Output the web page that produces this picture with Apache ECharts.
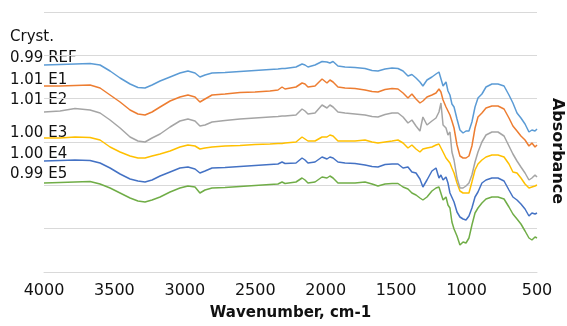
<!DOCTYPE html>
<html>
<head>
<meta charset="utf-8">
<script src="https://cdn.jsdelivr.net/npm/echarts@6/dist/echarts.min.js"></script>
<style>
html,body{margin:0;padding:0;background:#fff;}
#chart{width:567px;height:326px;}
</style>
</head>
<body>
<div id="chart"></div>
<script>
// Wavenumbers (cm-1)
var wavenumbers = [4000,3886,3780,3673,3602,3531,3460,3389,3333,3283,3233,3176,3105,3035,2978,2928,2893,2857,2807,2715,2609,2502,2396,2339,2310,2289,2211,2168,2147,2126,2076,2026,1991,1970,1948,1913,1863,1792,1721,1671,1629,1579,1529,1487,1451,1416,1388,1359,1331,1310,1281,1246,1217,1196,1182,1167,1146,1132,1118,1104,1089,1068,1047,1025,1004,983,962,940,919,891,862,820,777,734,699,671,642,614,585,557,536,514,500];

// Absorbance (arbitrary, offset units)
var ref = [207,207.5,208,208.5,207,201,194,188,184.5,184,187,191,195,199,201,199,195,197,199,199.5,200.5,201.5,202.5,203,203.5,203.5,205,208,207,205,207,210.5,210,209,210.5,206,205,204.5,203.5,201.5,201,203,204,203.5,201,196,197.5,194,190,186,192,195,198,200,198,186,190,181,177,168,165,153,142,139,141,141,150,165,174,178,185,188,188,186,177,169,159,154,148,140,142,141,143];
var e1 = [186,186,186.5,187,184,177,170,162,158,157,160,165,171,175,177,175,170,173,177,178,179.5,180,181,182,185,183,185,189,188,185,186,193,189,192,190,185,184,183.5,182,180.5,180,182.5,183.5,183,179,174,178,173,169,171,175,177,179,183,180,172,165,167,157,151,144,127,116,114,114,116,126,144,155,159,164,166,166,163,154,146,141,136,132,126,129,125,127];
var e2 = [160,161,163.5,162,159,152,144,135,131,130,134,138,145,151,153,151,146,147,150,151.5,153,154,155,155.5,156,156,157,163,161,158,159,167,164,167,165,160,159,158,157,155.5,155,157.5,159,159,155,149,152,146,141,155,147,151,154,160,169,147,144,137,140,120,112,94,84,84,86,89,97,110,120,130,137,140,140,136,126,118,111,105,99,92,94,97,95];
var e3 = [134,134,135,134.5,132,125,120,116,114,114,116,118,121,125,127,126,123,124,125,126,126.5,127.5,128,128.5,128.5,129,130,135,133,131,131,135,135,137,136,131,131,131,132,130,129,130,131,132,129,124,127,123,120,123,124,125,127,128,129,120,114,115,109,104,99,89,81,79,79,79,90,102,108,112,115,117,117,115,108,100,99,94,88,84,85,86,87];
var e4 = [111,111.5,112,111.5,109,104,98,93,91,90,92,96,100,104,105,103,99,101,104,104.5,105.5,106.5,107.5,108,110,108.5,109,114,112,109,110,115,113,115,114,110,109,108.5,107,105.5,105,107.5,108,108,104,105,100,99,93,85,92,101,104,94,97,92,95,89,79,77,70,60,55,53,52,56,64,75,80,89,92,94,94,91,82,75,72,68,63,56,59,58,59];
var e5 = [89,89.5,90,90.5,88,84,79,74,71,70,72,75,80,84,86,85,79,82,84,84.5,85.5,86.5,87.5,88,90,88.5,90,94,92,89,90,95,94,96,94,89,89,89,90,88,86,88,88.5,88.5,85,83,79,77,74,72,75,81,84,85,84,72,75,67,64,50,43,36,27,30,29,34,47,59,64,69,73,75,75,73,65,58,53,48,41,34,32,35,34];

var seriesNames = ['REF','E1','E2','E3','E4','E5'];
var crystValues = ['0.99','1.01','1.01','1.00','1.00','0.99'];
var xTicks = [4000,3500,3000,2500,2000,1500,1000,500];

var colors = ['#5B9BD5','#ED7D31','#A5A5A5','#FFC000','#4472C4','#70AD47'];
var allSeries = [ref,e1,e2,e3,e4,e5];
var labelY = [58,80,100,133,154,174];

var chart = echarts.init(document.getElementById('chart'), null, {renderer:'canvas'});

var series = allSeries.map(function(vals, k){
  return {
    name: seriesNames[k],
    type: 'line',
    data: wavenumbers.map(function(w,i){ return [w, vals[i]]; }),
    showSymbol: false,
    symbol: 'none',
    smooth: false,
    lineStyle: {color: colors[k], width: 1.5},
    itemStyle: {color: colors[k]},
    animation: false,
    z: 10 - k
  };
});

var graphics = [{
  type: 'text', left: 10, top: 30,
  style: {text: 'Cryst.', font: '15px "DejaVu Sans"', fill: '#111'}
}];
seriesNames.forEach(function(n,k){
  graphics.push({
    type: 'text', x: 10, y: labelY[k],
    style: {text: crystValues[k] + ' ' + n, font: '15px "DejaVu Sans"', fill: '#111', textVerticalAlign: 'middle'}
  });
});
graphics.push({
  type: 'text', x: 557, y: 151, rotation: -Math.PI/2,
  style: {text: 'Absorbance', font: 'bold 16px "DejaVu Sans"', fill: '#111', textAlign: 'center', textVerticalAlign: 'middle'}
});

chart.setOption({
  animation: false,
  backgroundColor: '#fff',
  grid: {left: 44, right: 30, top: 12, bottom: 54, containLabel: false},
  xAxis: {
    type: 'value', inverse: true, min: 500, max: 4000, interval: 500,
    name: 'Wavenumber, cm-1', nameLocation: 'middle', nameGap: 34,
    nameTextStyle: {fontFamily: 'DejaVu Sans', fontWeight: 'bold', fontSize: 15, color: '#111'},
    axisLine: {show: true, lineStyle: {color: '#d9d9d9', width: 1}},
    axisTick: {show: false},
    splitLine: {show: false},
    axisLabel: {fontFamily: 'DejaVu Sans', fontSize: 16, color: '#111', margin: 11,
      formatter: function(v){ return xTicks.indexOf(v) >= 0 ? String(v) : ''; }}
  },
  yAxis: {
    type: 'value', min: 0, max: 260, interval: 260/6,
    axisLine: {show: false}, axisTick: {show: false}, axisLabel: {show: false},
    splitLine: {show: true, lineStyle: {color: '#d9d9d9', width: 1}}
  },
  graphic: graphics,
  series: series
});
</script>
</body>
</html>
